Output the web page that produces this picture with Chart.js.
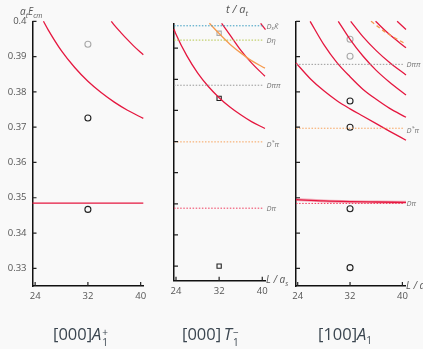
<!DOCTYPE html>
<html><head><meta charset="utf-8">
<script src="https://cdn.jsdelivr.net/npm/chart.js@4"></script>
<style>
html,body{margin:0;padding:0;background:#f9f9f9;width:423px;height:349px;overflow:hidden;font-family:"Open Sans","DejaVu Sans",sans-serif}
canvas{position:absolute;left:0;top:0}
.t{position:absolute;white-space:nowrap;line-height:1}
.ax{color:#555;font-size:10px;font-style:italic}
.thr{color:#777;font-size:7.5px;font-style:italic;line-height:12px;height:12px}
.thr sub{font-size:5.5px;vertical-align:-1px}
.thr sup{font-size:5.5px;vertical-align:3px}
.ttl{color:#3b4650;font-size:16.5px}
.ss{display:inline-block;vertical-align:-6px;font-size:10px;line-height:10px;text-align:left;margin-left:1px}
.ss span{display:block}
</style></head><body>
<canvas id="c1" width="423" height="349"></canvas>
<canvas id="c2" width="423" height="349"></canvas>
<canvas id="c3" width="423" height="349"></canvas>

<div class="t ax" style="left:20px;top:6px"><i>a</i><sub style="font-size:7px">t</sub><i>E</i><sub style="font-size:7px">cm</sub></div>
<div class="t ax" style="left:226px;top:3px;font-size:11px">t / a<sub style="font-size:7.5px">t</sub></div>
<div class="t ax" style="left:266px;top:274px;font-size:10px">L / a<sub style="font-size:7px">s</sub></div>
<div class="t ax" style="left:406px;top:280px;font-size:10px">L / a<sub style="font-size:7px">s</sub></div>

<div class="t ttl" style="left:53px;top:326px">[000]<i>A</i><span class="ss"><span>+</span><span>1</span></span></div>
<div class="t ttl" style="left:182px;top:326px">[000]&thinsp;<i>T</i><span class="ss"><span>−</span><span>1</span></span></div>
<div class="t ttl" style="left:318px;top:326px">[100]<i>A</i><span style="font-size:10px;vertical-align:-4px">1</span></div>

<div class="t thr" id="p2DsK">D<sub>s</sub>K̄</div>
<div class="t thr" id="p2Deta">Dη</div>
<div class="t thr" id="p2Dpipi">Dππ</div>
<div class="t thr" id="p2Dstpi">D<sup>*</sup>π</div>
<div class="t thr" id="p2Dpi">Dπ</div>
<div class="t thr" id="p3Dpipi">Dππ</div>
<div class="t thr" id="p3Dstpi">D<sup>*</sup>π</div>
<div class="t thr" id="p3Dpi">Dπ</div>

<script>
// ---------- tick labels ----------
const X_TICKS = [24, 32, 40];
const Y_TICKS = [0.33, 0.34, 0.35, 0.36, 0.37, 0.38, 0.39, 0.40];

// ---------- panel 1 : [000]A1+ ----------
const p1_curveA_L = [25.26, 26, 28, 30, 32, 34, 36, 38, 40.4];
const p1_curveA_E = [0.4000, 0.3975, 0.3916, 0.3869, 0.3830, 0.3798, 0.3771, 0.3748, 0.3725];
const p1_curveB_L = [35.55, 36, 37, 38, 39, 40.4];
const p1_curveB_E = [0.4000, 0.3989, 0.3968, 0.3948, 0.3929, 0.3905];
const p1_Dpi_L = [23.6, 40.4];
const p1_Dpi_E = [0.3485, 0.3485];
const p1_gray_L = [32];
const p1_gray_E = [0.3935];
const p1_black_L = [32, 32];
const p1_black_E = [0.3726, 0.3467];

// ---------- panel 2 : [000]T1- ----------
const p2_curve1_L = [23.63, 24, 26, 28, 30, 32, 34, 36, 38, 40.5];
const p2_curve1_E = [0.4061, 0.4045, 0.3976, 0.3921, 0.3877, 0.3841, 0.3811, 0.3786, 0.3764, 0.3742];
const p2_orange_L = [30.2, 32, 34, 36, 38, 40.5];
const p2_orange_E = [0.4080, 0.4047, 0.4013, 0.3985, 0.3960, 0.3936];
const p2_curve2_L = [32.46, 34, 36, 38, 40.5];
const p2_curve2_E = [0.4080, 0.4043, 0.3994, 0.3953, 0.3910];
const p2_curve3_L = [39.7, 40.6];
const p2_curve3_E = [0.4080, 0.4060];
const p2_thr_L = [23.63, 40.2];
const p2_DsK = 0.4072, p2_Deta = 0.4026, p2_Dpipi = 0.3881, p2_Dstpi = 0.3699, p2_Dpi = 0.3486;
const p2_gray_L = [32];
const p2_gray_E = [0.4048];
const p2_black_L = [32, 32];
const p2_black_E = [0.3839, 0.3300];

// ---------- panel 3 : [100]A1 ----------
const p3_c1_L = [23.74, 26, 28, 30, 32, 34, 36, 38, 40.55];
const p3_c1_E = [0.3882, 0.3836, 0.3803, 0.3775, 0.3752, 0.3731, 0.3710, 0.3689, 0.3663];
const p3_c2_L = [25.9, 28, 30, 32, 34, 36, 38, 40.55];
const p3_c2_E = [0.4000, 0.3934, 0.3883, 0.3843, 0.3807, 0.3779, 0.3754, 0.3728];
const p3_c3_L = [30.2, 32, 34, 36, 38, 40.55];
const p3_c3_E = [0.4000, 0.3949, 0.3901, 0.3861, 0.3828, 0.3791];
const p3_c4_L = [32.1, 34, 36, 38, 40.55];
const p3_c4_E = [0.4000, 0.3956, 0.3917, 0.3884, 0.3848];
const p3_c5_L = [35.9, 38, 40.55];
const p3_c5_E = [0.4000, 0.3963, 0.3925];
const p3_c6_L = [39.2, 40.55];
const p3_c6_E = [0.4000, 0.3977];
const p3_orange_L = [35.2, 37.5, 40.3];
const p3_orange_E = [0.4000, 0.3968, 0.3938];
const p3_Dpic_L = [23.74, 28, 32, 36, 40.55];
const p3_Dpic_E = [0.3495, 0.3491, 0.3489, 0.3488, 0.3487];
const p3_thr_L = [23.74, 40.3];
const p3_Dpipi = 0.3878, p3_Dstpi = 0.3697, p3_Dpi = 0.3484;
const p3_gray_L = [32, 32];
const p3_gray_E = [0.3949, 0.3901];
const p3_black_L = [32, 32, 32, 32];
const p3_black_E = [0.3774, 0.3700, 0.3469, 0.3302];

// ---------- styling ----------
const RED = '#e5173f', ORANGE = '#f59a4e';
const C_DPI = '#ef3b5d', C_DSTPI = '#f7a35c', C_DPIPI = '#9a9a9a', C_DETA = '#b5c74a', C_DSK = '#3a9cc0';

const zip = (L, E) => L.map((x, i) => ({x, y: E[i]}));
const curve = (L, E, color, extra) => Object.assign({
  data: zip(L, E), borderColor: color, borderWidth: 1.3, pointRadius: 0,
  cubicInterpolationMode: 'monotone', fill: false, clip: false
}, extra || {});
const thr = (L, v, color) => ({
  data: zip(L, L.map(() => v)), borderColor: color, borderWidth: 1,
  borderDash: [1.5, 1.6], pointRadius: 0, fill: false, clip: false
});
const pts = (L, E, color, style) => ({
  data: zip(L, E), showLine: false, pointStyle: style, pointRadius: 3,
  pointBorderColor: color, pointBackgroundColor: 'rgba(0,0,0,0)', pointBorderWidth: 1.1, clip: false
});

const inTicks = {
  id: 'inTicks',
  afterDraw(chart) {
    const {ctx, chartArea: a, scales: {x, y}} = chart;
    ctx.save();
    ctx.strokeStyle = '#222'; ctx.lineWidth = 1.2;
    ctx.beginPath();
    Y_TICKS.forEach(v => {
      const py = y.getPixelForValue(v);
      if (py < a.top - 1 || py > a.bottom + 1) return;
      ctx.moveTo(a.left, py); ctx.lineTo(a.left + 4, py);
    });
    X_TICKS.forEach(v => {
      const px = x.getPixelForValue(v);
      ctx.moveTo(px, a.bottom); ctx.lineTo(px, a.bottom - 4);
    });
    ctx.stroke();
    ctx.restore();
  }
};

function labelPlugin(items) {
  return {
    id: 'thrLabels',
    afterDraw(chart) {
      const y = chart.scales.y, a = chart.chartArea;
      items.forEach(it => {
        const el = document.getElementById(it.id);
        el.style.left = (a.right + it.dx) + 'px';
        el.style.top = (y.getPixelForValue(it.v) - 6) + 'px';
      });
    }
  };
}

function makeChart(id, area, xr, yr, datasets, showYLabels, plugins) {
  const yW = area.l, xH = 20;
  return new Chart(document.getElementById(id), {
    type: 'line',
    data: {datasets},
    plugins: [inTicks].concat(plugins || []),
    options: {
      responsive: false, animation: false, events: [],
      layout: {padding: {left: 0, top: area.t, right: 423 - area.r, bottom: 349 - area.b - xH}},
      plugins: {legend: {display: false}, tooltip: {enabled: false}},
      scales: {
        x: {
          type: 'linear', min: xr[0], max: xr[1],
          afterBuildTicks: s => { s.ticks = X_TICKS.map(v => ({value: v})); },
          afterFit: s => { s.height = xH; },
          grid: {display: true, drawOnChartArea: false, drawTicks: false},
          border: {display: true, color: '#111', width: 1.5},
          ticks: {padding: 5, color: '#555', font: {family: 'Open Sans', size: 9.5}, maxRotation: 0}
        },
        y: {
          type: 'linear', min: yr[0], max: yr[1],
          afterBuildTicks: s => { s.ticks = Y_TICKS.map(v => ({value: v})); },
          afterFit: s => { s.width = yW; },
          grid: {display: true, drawOnChartArea: false, drawTicks: false},
          border: {display: true, color: '#111', width: 1.5},
          ticks: {display: showYLabels, padding: 6, color: '#555', font: {family: 'Open Sans', size: 9.5},
                  callback: v => String(+v.toFixed(2))}
        }
      }
    }
  });
}

// Panel 1
makeChart('c1', {l: 32.5, r: 143.3, t: 21.3, b: 286}, [23.6, 40.4], [0.325, 0.4], [
  curve(p1_Dpi_L, p1_Dpi_E, RED),
  curve(p1_curveA_L, p1_curveA_E, RED),
  curve(p1_curveB_L, p1_curveB_E, RED),
  pts(p1_gray_L, p1_gray_E, '#aaaaaa', 'circle'),
  pts(p1_black_L, p1_black_E, '#222222', 'circle')
], true);

// Panel 2
makeChart('c2', {l: 174, r: 265.5, t: 23.3, b: 280.7}, [23.63, 40.6], [0.3253, 0.408], [
  thr(p2_thr_L, p2_DsK, C_DSK),
  thr(p2_thr_L, p2_Deta, C_DETA),
  thr(p2_thr_L, p2_Dpipi, C_DPIPI),
  thr(p2_thr_L, p2_Dstpi, C_DSTPI),
  thr(p2_thr_L, p2_Dpi, C_DPI),
  curve(p2_orange_L, p2_orange_E, ORANGE),
  curve(p2_curve1_L, p2_curve1_E, RED),
  curve(p2_curve2_L, p2_curve2_E, RED),
  curve(p2_curve3_L, p2_curve3_E, RED),
  pts(p2_gray_L, p2_gray_E, '#aaaaaa', 'rect'),
  pts(p2_black_L, p2_black_E, '#222222', 'rect')
], false, [labelPlugin([
  {id: 'p2DsK', v: p2_DsK, dx: 1}, {id: 'p2Deta', v: p2_Deta, dx: 1}, {id: 'p2Dpipi', v: p2_Dpipi, dx: 1},
  {id: 'p2Dstpi', v: p2_Dstpi, dx: 1}, {id: 'p2Dpi', v: p2_Dpi, dx: 1}
])]);

// Panel 3
makeChart('c3', {l: 296, r: 405, t: 21.3, b: 286}, [23.74, 40.4], [0.325, 0.4], [
  thr(p3_thr_L, p3_Dpipi, C_DPIPI),
  thr(p3_thr_L, p3_Dstpi, C_DSTPI),
  thr(p3_thr_L, p3_Dpi, C_DPI),
  curve(p3_Dpic_L, p3_Dpic_E, 'rgba(229,23,63,0.35)', {borderWidth: 3}),
  curve(p3_Dpic_L, p3_Dpic_E, RED),
  curve(p3_orange_L, p3_orange_E, ORANGE, {borderDash: [4, 3]}),
  curve(p3_c1_L, p3_c1_E, RED),
  curve(p3_c2_L, p3_c2_E, RED),
  curve(p3_c3_L, p3_c3_E, RED),
  curve(p3_c4_L, p3_c4_E, RED),
  curve(p3_c5_L, p3_c5_E, RED),
  curve(p3_c6_L, p3_c6_E, RED),
  pts(p3_gray_L, p3_gray_E, '#aaaaaa', 'circle'),
  pts(p3_black_L, p3_black_E, '#222222', 'circle')
], false, [labelPlugin([
  {id: 'p3Dpipi', v: p3_Dpipi, dx: 1.5}, {id: 'p3Dstpi', v: p3_Dstpi, dx: 1.5}, {id: 'p3Dpi', v: p3_Dpi, dx: 1.5}
])]);
</script>
</body></html>
